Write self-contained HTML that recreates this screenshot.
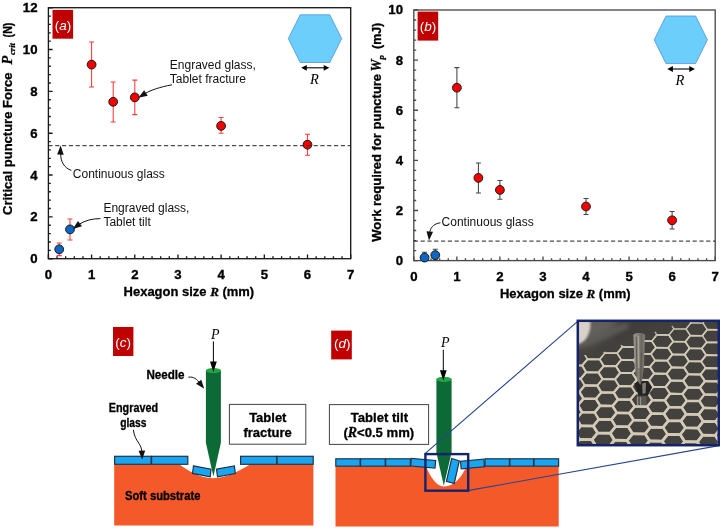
<!DOCTYPE html>
<html lang="en"><head><meta charset="utf-8"><title>Puncture figure</title>
<style>
html,body{margin:0;padding:0;background:#fff;}
body{width:720px;height:528px;overflow:hidden;}
svg{display:block;filter:blur(0.45px);}
text{font-family:"Liberation Sans",sans-serif;fill:#000;}
.b{font-weight:bold;stroke:#000;stroke-width:0.3px;}
.ser{font-family:"Liberation Serif",serif;font-style:italic;}
.tk{font-weight:bold;font-size:13.2px;stroke:#000;stroke-width:0.35px;}
.an{font-size:12px;fill:#111;}
.cal{font-weight:bold;font-size:11.9px;stroke:#000;stroke-width:0.3px;}
</style></head><body>
<svg width="720" height="528" viewBox="0 0 720 528">
<defs>
<filter id="soft" x="-5%" y="-5%" width="110%" height="110%"><feGaussianBlur stdDeviation="0.5"/></filter>
<filter id="blur1" x="-10%" y="-10%" width="120%" height="120%"><feGaussianBlur stdDeviation="0.6"/></filter>
<filter id="blur1b" x="-30%" y="-30%" width="160%" height="160%"><feGaussianBlur stdDeviation="1.3"/></filter>
<filter id="blur2" x="-20%" y="-20%" width="140%" height="140%"><feGaussianBlur stdDeviation="2"/></filter>
<filter id="blur4" x="-20%" y="-20%" width="140%" height="140%"><feGaussianBlur stdDeviation="5"/></filter>
</defs>
<rect width="720" height="528" fill="#fff"/>

<g stroke="#1a1a1a" stroke-width="1.35" fill="none">
<rect x="48.4" y="7.7" width="302.3" height="251.0"/>
<path d="M48.40 258.7v-4.2M57.04 258.7v-2.4M65.67 258.7v-2.4M74.31 258.7v-2.4M82.95 258.7v-2.4M91.59 258.7v-4.2M100.22 258.7v-2.4M108.86 258.7v-2.4M117.50 258.7v-2.4M126.13 258.7v-2.4M134.77 258.7v-4.2M143.41 258.7v-2.4M152.05 258.7v-2.4M160.68 258.7v-2.4M169.32 258.7v-2.4M177.96 258.7v-4.2M186.59 258.7v-2.4M195.23 258.7v-2.4M203.87 258.7v-2.4M212.51 258.7v-2.4M221.14 258.7v-4.2M229.78 258.7v-2.4M238.42 258.7v-2.4M247.05 258.7v-2.4M255.69 258.7v-2.4M264.33 258.7v-4.2M272.97 258.7v-2.4M281.60 258.7v-2.4M290.24 258.7v-2.4M298.88 258.7v-2.4M307.51 258.7v-4.2M316.15 258.7v-2.4M324.79 258.7v-2.4M333.43 258.7v-2.4M342.06 258.7v-2.4M350.70 258.7v-4.2M48.4 258.70h4.2M48.4 250.33h2.4M48.4 241.97h2.4M48.4 233.60h2.4M48.4 225.23h2.4M48.4 216.87h4.2M48.4 208.50h2.4M48.4 200.13h2.4M48.4 191.77h2.4M48.4 183.40h2.4M48.4 175.03h4.2M48.4 166.67h2.4M48.4 158.30h2.4M48.4 149.93h2.4M48.4 141.57h2.4M48.4 133.20h4.2M48.4 124.83h2.4M48.4 116.47h2.4M48.4 108.10h2.4M48.4 99.73h2.4M48.4 91.37h4.2M48.4 83.00h2.4M48.4 74.63h2.4M48.4 66.27h2.4M48.4 57.90h2.4M48.4 49.53h4.2M48.4 41.17h2.4M48.4 32.80h2.4M48.4 24.43h2.4M48.4 16.07h2.4M48.4 7.70h4.2"/>
</g>
<text class="tk" x="48.4" y="278.7" text-anchor="middle">0</text>
<text class="tk" x="91.6" y="278.7" text-anchor="middle">1</text>
<text class="tk" x="134.8" y="278.7" text-anchor="middle">2</text>
<text class="tk" x="178.0" y="278.7" text-anchor="middle">3</text>
<text class="tk" x="221.1" y="278.7" text-anchor="middle">4</text>
<text class="tk" x="264.3" y="278.7" text-anchor="middle">5</text>
<text class="tk" x="307.5" y="278.7" text-anchor="middle">6</text>
<text class="tk" x="350.7" y="278.7" text-anchor="middle">7</text>
<text class="tk" x="37.5" y="263.2" text-anchor="end">0</text>
<text class="tk" x="37.5" y="221.4" text-anchor="end">2</text>
<text class="tk" x="37.5" y="179.5" text-anchor="end">4</text>
<text class="tk" x="37.5" y="137.7" text-anchor="end">6</text>
<text class="tk" x="37.5" y="95.9" text-anchor="end">8</text>
<text class="tk" x="37.5" y="54.0" text-anchor="end">10</text>
<text class="tk" x="37.5" y="12.2" text-anchor="end">12</text>
<text class="b" font-size="13.1" x="123.6" y="296.4" textLength="130.6" lengthAdjust="spacingAndGlyphs">Hexagon size <tspan class="ser b" font-size="13.2">R</tspan> (mm)</text>
<text class="b" font-size="13.1" transform="translate(12.4,215) rotate(-90)" textLength="142.5" lengthAdjust="spacingAndGlyphs">Critical puncture Force</text>
<text class="ser b" font-size="14.4" transform="translate(12.4,64.4) rotate(-90)">P</text>
<text class="ser b" font-size="8.6" transform="translate(14.6,55) rotate(-90)">crit</text>
<text class="b" font-size="12.6" transform="translate(12.4,37.4) rotate(-90)" textLength="14.8" lengthAdjust="spacingAndGlyphs">(N)</text>
<path d="M59.2 243.0V255.6M56.7 243.0h5M56.7 255.6h5" stroke="#f83c3c" stroke-width="1.05" fill="none"/>
<path d="M70.0 219.0V239.9M67.5 219.0h5M67.5 239.9h5" stroke="#f83c3c" stroke-width="1.05" fill="none"/>
<path d="M91.6 42.0V87.0M89.1 42.0h5M89.1 87.0h5" stroke="#f83c3c" stroke-width="1.05" fill="none"/>
<path d="M113.2 82.0V121.9M110.7 82.0h5M110.7 121.9h5" stroke="#f83c3c" stroke-width="1.05" fill="none"/>
<path d="M134.8 80.1V114.6M132.3 80.1h5M132.3 114.6h5" stroke="#f83c3c" stroke-width="1.05" fill="none"/>
<path d="M221.1 117.5V133.2M218.6 117.5h5M218.6 133.2h5" stroke="#f83c3c" stroke-width="1.05" fill="none"/>
<path d="M307.5 134.2V155.2M305.0 134.2h5M305.0 155.2h5" stroke="#f83c3c" stroke-width="1.05" fill="none"/>
<circle cx="59.2" cy="249.3" r="4.4" fill="#0c66c4" stroke="#1a1a1a" stroke-width="1"/>
<circle cx="70.0" cy="229.4" r="4.4" fill="#0c66c4" stroke="#1a1a1a" stroke-width="1"/>
<circle cx="91.6" cy="64.6" r="4.4" fill="#f40000" stroke="#1a1a1a" stroke-width="1"/>
<circle cx="113.2" cy="101.8" r="4.4" fill="#f40000" stroke="#1a1a1a" stroke-width="1"/>
<circle cx="134.8" cy="97.4" r="4.4" fill="#f40000" stroke="#1a1a1a" stroke-width="1"/>
<circle cx="221.1" cy="125.9" r="4.4" fill="#f40000" stroke="#1a1a1a" stroke-width="1"/>
<circle cx="307.5" cy="144.7" r="4.4" fill="#f40000" stroke="#1a1a1a" stroke-width="1"/>
<path d="M48.4 145.7H350.7" stroke="#222" stroke-width="1" stroke-dasharray="4.2 2.6" fill="none"/>
<rect x="52.5" y="9.9" width="20.6" height="28.8" fill="#c00000"/>
<text x="62.9" y="29.7" font-size="13.5" fill="#fff" style="fill:#fff" text-anchor="middle">(<tspan font-style="italic">a</tspan>)</text>
<polygon points="288.3,38.6 300.2,14.8 329.8,14.8 341.7,38.6 329.8,62.5 300.2,62.5" fill="#6ccffb" stroke="#4f8fe0" stroke-width="0.8"/>
<path d="M305.2 67.8H325.3" stroke="#000" stroke-width="1.1"/>
<path d="M301.2 67.8l5.6 -2.9v5.8zM329.3 67.8l-5.6 -2.9v5.8z" fill="#000"/>
<text class="ser" font-size="14.5" x="314.4" y="83.5" text-anchor="middle">R</text>
<text class="an" x="169.8" y="69.2">Engraved glass,</text>
<text class="an" x="169.8" y="83.4">Tablet fracture</text>
<text class="an" x="72.8" y="177.6">Continuous glass</text>
<text class="an" x="103.4" y="211.8">Engraved glass,</text>
<text class="an" x="103.4" y="226.2">Tablet tilt</text>
<path d="M172 84.8C160 87 151 90 145 93.6" stroke="#111" stroke-width="1" fill="none"/>
<path transform="translate(138.4,97.8) rotate(147)" d="M0 0l-9 -3.3v6.6z" fill="#111"/>
<path d="M71.4 170.4C64 168 60.4 161 60.8 154" stroke="#111" stroke-width="1" fill="none"/>
<path transform="translate(60.6,145.6) rotate(-89)" d="M0 0l-9 -3.3v6.6z" fill="#111"/>
<path d="M100.4 218.6C92 218.6 85 220.6 79.6 224" stroke="#111" stroke-width="1" fill="none"/>
<path transform="translate(72.8,229) rotate(143)" d="M0 0l-9 -3.3v6.6z" fill="#111"/>
<g stroke="#4a4a4a" stroke-width="1.35" fill="none">
<rect x="413.8" y="10.0" width="301.40000000000003" height="250.60000000000002"/>
<path d="M413.80 260.6v-4.2M422.41 260.6v-2.4M431.02 260.6v-2.4M439.63 260.6v-2.4M448.25 260.6v-2.4M456.86 260.6v-4.2M465.47 260.6v-2.4M474.08 260.6v-2.4M482.69 260.6v-2.4M491.30 260.6v-2.4M499.91 260.6v-4.2M508.53 260.6v-2.4M517.14 260.6v-2.4M525.75 260.6v-2.4M534.36 260.6v-2.4M542.97 260.6v-4.2M551.58 260.6v-2.4M560.19 260.6v-2.4M568.81 260.6v-2.4M577.42 260.6v-2.4M586.03 260.6v-4.2M594.64 260.6v-2.4M603.25 260.6v-2.4M611.86 260.6v-2.4M620.47 260.6v-2.4M629.09 260.6v-4.2M637.70 260.6v-2.4M646.31 260.6v-2.4M654.92 260.6v-2.4M663.53 260.6v-2.4M672.14 260.6v-4.2M680.75 260.6v-2.4M689.37 260.6v-2.4M697.98 260.6v-2.4M706.59 260.6v-2.4M715.20 260.6v-4.2M413.8 260.60h4.2M413.8 250.58h2.4M413.8 240.55h2.4M413.8 230.53h2.4M413.8 220.50h2.4M413.8 210.48h4.2M413.8 200.46h2.4M413.8 190.43h2.4M413.8 180.41h2.4M413.8 170.38h2.4M413.8 160.36h4.2M413.8 150.34h2.4M413.8 140.31h2.4M413.8 130.29h2.4M413.8 120.26h2.4M413.8 110.24h4.2M413.8 100.22h2.4M413.8 90.19h2.4M413.8 80.17h2.4M413.8 70.14h2.4M413.8 60.12h4.2M413.8 50.10h2.4M413.8 40.07h2.4M413.8 30.05h2.4M413.8 20.02h2.4M413.8 10.00h4.2"/>
</g>
<text class="tk" x="413.8" y="281" text-anchor="middle">0</text>
<text class="tk" x="456.9" y="281" text-anchor="middle">1</text>
<text class="tk" x="499.9" y="281" text-anchor="middle">2</text>
<text class="tk" x="543.0" y="281" text-anchor="middle">3</text>
<text class="tk" x="586.0" y="281" text-anchor="middle">4</text>
<text class="tk" x="629.1" y="281" text-anchor="middle">5</text>
<text class="tk" x="672.1" y="281" text-anchor="middle">6</text>
<text class="tk" x="715.2" y="281" text-anchor="middle">7</text>
<text class="tk" x="403" y="265.0" text-anchor="end">0</text>
<text class="tk" x="403" y="214.9" text-anchor="end">2</text>
<text class="tk" x="403" y="164.8" text-anchor="end">4</text>
<text class="tk" x="403" y="114.6" text-anchor="end">6</text>
<text class="tk" x="403" y="64.5" text-anchor="end">8</text>
<text class="tk" x="403" y="14.4" text-anchor="end">10</text>
<text class="b" font-size="13.1" x="500" y="298.2" textLength="130.6" lengthAdjust="spacingAndGlyphs">Hexagon size <tspan class="ser b" font-size="13.2">R</tspan> (mm)</text>
<text class="b" font-size="13.1" transform="translate(381,241.8) rotate(-90)" textLength="167.9" lengthAdjust="spacingAndGlyphs">Work required for puncture</text>
<text class="ser b" font-size="13.6" transform="translate(381,71.4) rotate(-90)">W</text>
<text class="ser b" font-size="8.6" transform="translate(384,59.4) rotate(-90)">p</text>
<text class="b" font-size="12.6" transform="translate(381,49) rotate(-90)" textLength="26.2" lengthAdjust="spacingAndGlyphs">(mJ)</text>
<path d="M413.8 241.1H715.2" stroke="#222" stroke-width="1" stroke-dasharray="4.2 2.6" fill="none"/>
<path d="M424.6 252.3V260.6M422.1 252.3h5M422.1 260.6h5" stroke="#444" stroke-width="1.05" fill="none"/>
<path d="M435.3 249.3V259.8M432.8 249.3h5M432.8 259.8h5" stroke="#444" stroke-width="1.05" fill="none"/>
<path d="M456.9 67.6V107.7M454.4 67.6h5M454.4 107.7h5" stroke="#444" stroke-width="1.05" fill="none"/>
<path d="M478.4 162.9V192.9M475.9 162.9h5M475.9 192.9h5" stroke="#444" stroke-width="1.05" fill="none"/>
<path d="M499.9 180.4V199.2M497.4 180.4h5M497.4 199.2h5" stroke="#444" stroke-width="1.05" fill="none"/>
<path d="M586.0 198.5V214.5M583.5 198.5h5M583.5 214.5h5" stroke="#444" stroke-width="1.05" fill="none"/>
<path d="M672.1 211.5V229.0M669.6 211.5h5M669.6 229.0h5" stroke="#444" stroke-width="1.05" fill="none"/>
<circle cx="424.6" cy="257.6" r="4.4" fill="#0c66c4" stroke="#1a1a1a" stroke-width="1"/>
<circle cx="435.3" cy="255.1" r="4.4" fill="#0c66c4" stroke="#1a1a1a" stroke-width="1"/>
<circle cx="456.9" cy="87.7" r="4.4" fill="#f40000" stroke="#1a1a1a" stroke-width="1"/>
<circle cx="478.4" cy="177.9" r="4.4" fill="#f40000" stroke="#1a1a1a" stroke-width="1"/>
<circle cx="499.9" cy="189.9" r="4.4" fill="#f40000" stroke="#1a1a1a" stroke-width="1"/>
<circle cx="586.0" cy="206.5" r="4.4" fill="#f40000" stroke="#1a1a1a" stroke-width="1"/>
<circle cx="672.1" cy="220.3" r="4.4" fill="#f40000" stroke="#1a1a1a" stroke-width="1"/>
<rect x="417.6" y="11.6" width="20.6" height="29" fill="#c00000"/>
<text x="428" y="31.4" font-size="13.5" fill="#fff" style="fill:#fff" text-anchor="middle">(<tspan font-style="italic">b</tspan>)</text>
<polygon points="654.2,39.8 666.0,16.0 695.6,16.0 707.4,39.8 695.6,63.6 666.0,63.6" fill="#6ccffb" stroke="#4f8fe0" stroke-width="0.8"/>
<path d="M671.3 69H690.9" stroke="#000" stroke-width="1.1"/>
<path d="M667.3 69l5.6 -2.9v5.8zM694.9 69l-5.6 -2.9v5.8z" fill="#000"/>
<text class="ser" font-size="14.5" x="680" y="84.8" text-anchor="middle">R</text>
<text class="an" x="441.6" y="226.4">Continuous glass</text>
<path d="M440.4 222.8C435 223.4 431 226.6 429.8 231.6" stroke="#111" stroke-width="1" fill="none"/>
<path transform="translate(429,240.4) rotate(95)" d="M0 0l-9 -3.3v6.6z" fill="#111"/>
<path d="M114.2 464.6H179.4C188 470 198 478.2 213.2 478.2C228 478.2 240 470 250 464.6H313.4V525.6H114.2z" fill="#f4592a"/>
<path d="M205.9 370.6V442.8L213.4 476.4L220.9 442.8V370.6z" fill="#0c6a36"/>
<ellipse cx="213.4" cy="370.6" rx="7.5" ry="2.6" fill="#22a543"/>
<rect x="114.6" y="456.3" width="36.5" height="8" fill="#19a5ef" stroke="#22324a" stroke-width="1.2"/>
<rect x="151.6" y="456.3" width="36.2" height="8" fill="#19a5ef" stroke="#22324a" stroke-width="1.2"/>
<rect x="240.6" y="456.3" width="36.1" height="8" fill="#19a5ef" stroke="#22324a" stroke-width="1.2"/>
<rect x="277.1" y="456.3" width="36.1" height="8" fill="#19a5ef" stroke="#22324a" stroke-width="1.2"/>
<polygon points="193.5,465.8 211.0,469.2 210.2,476.9 192.5,473.4" fill="#19a5ef" stroke="#22324a" stroke-width="1.2"/>
<polygon points="216.5,469.2 234.4,466.0 235.3,473.6 217.5,476.9" fill="#19a5ef" stroke="#22324a" stroke-width="1.2"/>
<text class="ser" font-size="14" x="215.2" y="339.2" text-anchor="middle">P</text>
<path d="M213.4 341.4V365" stroke="#000" stroke-width="1"/>
<path d="M213.4 372l-3.4 -10.4h6.8z" fill="#000"/>
<rect x="113" y="327" width="20.4" height="29" fill="#c00000"/>
<text x="123.2" y="346.6" font-size="13.5" fill="#fff" style="fill:#fff" text-anchor="middle">(<tspan font-style="italic">c</tspan>)</text>
<text class="cal" x="146.4" y="378.8" textLength="38.2" lengthAdjust="spacingAndGlyphs">Needle</text>
<text class="cal" x="108.8" y="412" textLength="49.2" lengthAdjust="spacingAndGlyphs">Engraved</text>
<text class="cal" x="120.2" y="427" textLength="26.2" lengthAdjust="spacingAndGlyphs">glass</text>
<text class="cal" x="125" y="500" textLength="75.4" lengthAdjust="spacingAndGlyphs">Soft substrate</text>
<path d="M188.4 377.2C193.6 376.4 197 379 200 383.6" stroke="#111" stroke-width="1" fill="none"/>
<path transform="translate(204.2,388.8) rotate(52)" d="M0 0l-9 -3.3v6.6z" fill="#111"/>
<path d="M133.4 429.8C134 436 136.5 440 139 443.5C140.6 446 141.4 448 141.8 451" stroke="#111" stroke-width="1" fill="none"/>
<path transform="translate(142.2,459.6) rotate(88)" d="M0 0l-9 -3.3v6.6z" fill="#111"/>
<rect x="229.4" y="404.4" width="76.4" height="39.8" fill="#fff" stroke="#444" stroke-width="1"/>
<text class="b" font-size="13" x="267.8" y="421.7" text-anchor="middle">Tablet</text>
<text class="b" font-size="13" x="267.6" y="437.3" text-anchor="middle">fracture</text>
<path d="M335.5 466.2H426C430 476.4 436 486.2 444 486.4C455 486.2 462 476.4 466.5 466.2H558.7V526.6H335.5z" fill="#f4592a"/>
<path d="M436.4 379.4V452.4L443.8 485.8L451.6 452.4V379.4z" fill="#0c6a36"/>
<ellipse cx="444.0" cy="379.4" rx="7.600000000000023" ry="2.6" fill="#22a543"/>
<rect x="335.8" y="458.8" width="24.3" height="7.4" fill="#19a5ef" stroke="#22324a" stroke-width="1.2"/>
<rect x="360.6" y="458.8" width="24.6" height="7.4" fill="#19a5ef" stroke="#22324a" stroke-width="1.2"/>
<rect x="385.7" y="458.8" width="24.6" height="7.4" fill="#19a5ef" stroke="#22324a" stroke-width="1.2"/>
<rect x="411" y="459.4" width="24.4" height="7.6" fill="#19a5ef" stroke="#22324a" stroke-width="1.2" transform="rotate(5 423 463.1)"/>
<rect x="460.8" y="460.2" width="23.4" height="7.6" fill="#19a5ef" stroke="#22324a" stroke-width="1.2" transform="rotate(-5 472.5 464)"/>
<rect x="485" y="458.8" width="24.4" height="7.4" fill="#19a5ef" stroke="#22324a" stroke-width="1.2"/>
<rect x="509.9" y="458.8" width="23.6" height="7.4" fill="#19a5ef" stroke="#22324a" stroke-width="1.2"/>
<rect x="534" y="458.8" width="24.6" height="7.4" fill="#19a5ef" stroke="#22324a" stroke-width="1.2"/>
<polygon points="451.7,458.5 459.3,460.8 454.2,483.5 446.4,481.4" fill="#19a5ef" stroke="#22324a" stroke-width="1.2"/>
<text class="ser" font-size="14" x="445.4" y="347" text-anchor="middle">P</text>
<path d="M443.3 349.8V373.6" stroke="#000" stroke-width="1"/>
<path d="M443.3 380.6l-3.4 -10.4h6.8z" fill="#000"/>
<rect x="331.2" y="330.6" width="20.6" height="28.8" fill="#c00000"/>
<text x="342.2" y="348" font-size="13.5" fill="#fff" style="fill:#fff" text-anchor="middle">(<tspan font-style="italic">d</tspan>)</text>
<rect x="329.4" y="404.6" width="99.2" height="39.8" fill="#fff" stroke="#444" stroke-width="1"/>
<text class="b" font-size="13.1" x="379.4" y="421.8" text-anchor="middle">Tablet tilt</text>
<text class="b" font-size="13.1" x="378.8" y="437.4" text-anchor="middle">(<tspan class="ser b" font-size="13.8">R</tspan>&lt;0.5 mm)</text>
<path d="M425 453.6L577.4 321.6M469 490.4L719 445.6" stroke="#2a4590" stroke-width="1.1" fill="none"/>
<rect x="425.4" y="454.1" width="42.8" height="36.6" fill="none" stroke="#14236a" stroke-width="2.4"/>
<clipPath id="pc"><rect x="577.8" y="320.8" width="141.0" height="124.39999999999998"/></clipPath>
<linearGradient id="ng" x1="0" x2="1" y1="0" y2="0"><stop offset="0" stop-color="#9c978d"/><stop offset="0.35" stop-color="#8a857c"/><stop offset="0.7" stop-color="#6b675f"/><stop offset="1" stop-color="#858178"/></linearGradient>
<radialGradient id="lg" cx="0.5" cy="0.5" r="0.5"><stop offset="0" stop-color="#e4e0d6"/><stop offset="0.55" stop-color="#c9c5bb"/><stop offset="1" stop-color="#c9c5bb" stop-opacity="0"/></radialGradient>
<g clip-path="url(#pc)">
<rect x="577.8" y="320.8" width="141.0" height="124.39999999999998" fill="#43413d"/>
<clipPath id="gc"><polygon points="570,355 596,355 619,346 647,334.5 673,325.5 689,321 730,316 730,460 570,460"/></clipPath>
<g clip-path="url(#gc)" filter="url(#soft)" fill="none" stroke="#d2cab6" stroke-linejoin="round">
<path stroke-width="1.4" d="M570.1 320.4L575.4 314.3L587.4 314.5L591.4 320.8L586.1 327.0L574.1 326.8zM568.7 333.0L574.1 326.8L586.1 327.0L590.1 333.5L584.7 339.7L572.7 339.5zM586.1 327.0L591.4 320.8L603.3 321.1L607.4 327.5L602.1 333.7L590.1 333.5zM603.3 321.1L608.5 314.9L620.5 315.2L624.6 321.5L619.4 327.7L607.4 327.5zM602.1 333.7L607.4 327.5L619.4 327.7L623.5 334.1L618.3 340.4L606.2 340.2zM619.4 327.7L624.6 321.5L636.5 321.7L640.7 328.1L635.5 334.4L623.5 334.1zM636.5 321.7L641.6 315.6L653.6 315.8L657.8 322.2L652.7 328.4L640.7 328.1zM635.5 334.4L640.7 328.1L652.7 328.4L656.9 334.8L651.8 341.1L639.7 340.8zM652.7 328.4L657.8 322.2L669.7 322.4L674.0 328.8L668.9 335.0L656.9 334.8zM669.7 322.4L674.8 316.2L686.7 316.5L691.0 322.8L686.0 329.0L674.0 328.8zM668.9 335.0L674.0 328.8L686.0 329.0L690.3 335.5L685.3 341.8L673.2 341.5zM686.0 329.0L691.0 322.8L702.9 323.1L707.3 329.5L702.3 335.7L690.3 335.5zM702.9 323.1L707.9 316.9L719.8 317.1L724.2 323.5L719.3 329.7L707.3 329.5zM719.3 329.7L724.2 323.5L736.1 323.7L740.6 330.1L735.7 336.4L723.7 336.1z"/>
<path stroke-width="1.5" d="M584.7 339.7L590.1 333.5L602.1 333.7L606.2 340.2L600.9 346.5L588.8 346.2zM618.3 340.4L623.5 334.1L635.5 334.4L639.7 340.8L634.5 347.1L622.4 346.9zM651.8 341.1L656.9 334.8L668.9 335.0L673.2 341.5L668.1 347.8L656.0 347.6zM685.3 341.8L690.3 335.5L702.3 335.7L706.7 342.2L701.7 348.5L689.6 348.3zM702.3 335.7L707.3 329.5L719.3 329.7L723.7 336.1L718.8 342.4L706.7 342.2zM718.8 342.4L723.7 336.1L735.7 336.4L740.2 342.9L735.3 349.2L723.2 348.9z"/>
<path stroke-width="1.6" d="M567.3 345.8L572.7 339.5L584.7 339.7L588.8 346.2L583.4 352.6L571.3 352.3zM600.9 346.5L606.2 340.2L618.3 340.4L622.4 346.9L617.1 353.2L605.0 353.0zM634.5 347.1L639.7 340.8L651.8 341.1L656.0 347.6L650.9 353.9L638.7 353.7zM668.1 347.8L673.2 341.5L685.3 341.8L689.6 348.3L684.6 354.6L672.4 354.4zM701.7 348.5L706.7 342.2L718.8 342.4L723.2 348.9L718.3 355.3L706.1 355.0z"/>
<path stroke-width="1.7" d="M565.8 358.7L571.3 352.3L583.4 352.6L587.5 359.1L582.1 365.5L569.9 365.3zM583.4 352.6L588.8 346.2L600.9 346.5L605.0 353.0L599.7 359.4L587.5 359.1zM599.7 359.4L605.0 353.0L617.1 353.2L621.3 359.8L616.0 366.2L603.8 366.0zM617.1 353.2L622.4 346.9L634.5 347.1L638.7 353.7L633.5 360.1L621.3 359.8zM633.5 360.1L638.7 353.7L650.9 353.9L655.1 360.5L649.9 366.9L637.7 366.7zM650.9 353.9L656.0 347.6L668.1 347.8L672.4 354.4L667.3 360.7L655.1 360.5zM684.6 354.6L689.6 348.3L701.7 348.5L706.1 355.0L701.1 361.4L688.9 361.2zM718.3 355.3L723.2 348.9L735.3 349.2L739.9 355.7L734.9 362.1L722.8 361.8z"/>
<path stroke-width="1.8" d="M582.1 365.5L587.5 359.1L599.7 359.4L603.8 366.0L598.4 372.4L586.2 372.2zM616.0 366.2L621.3 359.8L633.5 360.1L637.7 366.7L632.4 373.1L620.2 372.9zM649.9 366.9L655.1 360.5L667.3 360.7L671.6 367.3L666.5 373.8L654.2 373.5zM667.3 360.7L672.4 354.4L684.6 354.6L688.9 361.2L683.9 367.6L671.6 367.3zM683.9 367.6L688.9 361.2L701.1 361.4L705.6 368.0L700.5 374.5L688.3 374.2zM701.1 361.4L706.1 355.0L718.3 355.3L722.8 361.8L717.8 368.3L705.6 368.0zM717.8 368.3L722.8 361.8L734.9 362.1L739.5 368.7L734.5 375.1L722.3 374.9z"/>
<path stroke-width="1.9" d="M564.4 371.7L569.9 365.3L582.1 365.5L586.2 372.2L580.7 378.7L568.4 378.4zM598.4 372.4L603.8 366.0L616.0 366.2L620.2 372.9L614.9 379.3L602.6 379.1zM632.4 373.1L637.7 366.7L649.9 366.9L654.2 373.5L649.0 380.0L636.7 379.8zM666.5 373.8L671.6 367.3L683.9 367.6L688.3 374.2L683.1 380.7L670.8 380.5zM700.5 374.5L705.6 368.0L717.8 368.3L722.3 374.9L717.3 381.4L705.0 381.1z"/>
<path stroke-width="2.0" d="M562.9 384.9L568.4 378.4L580.7 378.7L584.8 385.4L579.4 391.9L567.0 391.7zM580.7 378.7L586.2 372.2L598.4 372.4L602.6 379.1L597.2 385.6L584.8 385.4zM597.2 385.6L602.6 379.1L614.9 379.3L619.1 386.0L613.7 392.6L601.3 392.4zM614.9 379.3L620.2 372.9L632.4 373.1L636.7 379.8L631.4 386.3L619.1 386.0zM649.0 380.0L654.2 373.5L666.5 373.8L670.8 380.5L665.6 387.0L653.3 386.7zM683.1 380.7L688.3 374.2L700.5 374.5L705.0 381.1L699.9 387.7L687.6 387.4zM717.3 381.4L722.3 374.9L734.5 375.1L739.1 381.8L734.1 388.4L721.8 388.1z"/>
<path stroke-width="2.1" d="M579.4 391.9L584.8 385.4L597.2 385.6L601.3 392.4L595.9 398.9L583.5 398.7zM613.7 392.6L619.1 386.0L631.4 386.3L635.7 393.0L630.3 399.6L617.9 399.4zM631.4 386.3L636.7 379.8L649.0 380.0L653.3 386.7L648.0 393.3L635.7 393.0zM648.0 393.3L653.3 386.7L665.6 387.0L670.0 393.7L664.8 400.3L652.4 400.1zM665.6 387.0L670.8 380.5L683.1 380.7L687.6 387.4L682.4 394.0L670.0 393.7zM699.9 387.7L705.0 381.1L717.3 381.4L721.8 388.1L716.7 394.7L704.4 394.4z"/>
<path stroke-width="2.2" d="M561.4 398.2L567.0 391.7L579.4 391.9L583.5 398.7L578.0 405.3L565.5 405.1zM595.9 398.9L601.3 392.4L613.7 392.6L617.9 399.4L612.5 406.0L600.1 405.7zM630.3 399.6L635.7 393.0L648.0 393.3L652.4 400.1L647.1 406.7L634.7 406.4zM664.8 400.3L670.0 393.7L682.4 394.0L686.9 400.8L681.7 407.4L669.2 407.1zM682.4 394.0L687.6 387.4L699.9 387.7L704.4 394.4L699.3 401.0L686.9 400.8zM699.3 401.0L704.4 394.4L716.7 394.7L721.3 401.4L716.2 408.1L703.8 407.8zM716.7 394.7L721.8 388.1L734.1 388.4L738.7 395.1L733.7 401.7L721.3 401.4z"/>
<path stroke-width="2.3" d="M578.0 405.3L583.5 398.7L595.9 398.9L600.1 405.7L594.6 412.4L582.1 412.2zM612.5 406.0L617.9 399.4L630.3 399.6L634.7 406.4L629.3 413.1L616.8 412.8zM647.1 406.7L652.4 400.1L664.8 400.3L669.2 407.1L663.9 413.8L651.5 413.5zM681.7 407.4L686.9 400.8L699.3 401.0L703.8 407.8L698.6 414.5L686.1 414.2zM716.2 408.1L721.3 401.4L733.7 401.7L738.3 408.5L733.3 415.2L720.8 414.9z"/>
<path stroke-width="2.4" d="M559.9 411.7L565.5 405.1L578.0 405.3L582.1 412.2L576.6 418.8L564.1 418.6zM576.6 418.8L582.1 412.2L594.6 412.4L598.8 419.3L593.3 426.0L580.8 425.8zM594.6 412.4L600.1 405.7L612.5 406.0L616.8 412.8L611.4 419.5L598.8 419.3zM629.3 413.1L634.7 406.4L647.1 406.7L651.5 413.5L646.1 420.2L633.6 420.0zM663.9 413.8L669.2 407.1L681.7 407.4L686.1 414.2L680.9 420.9L668.4 420.7zM698.6 414.5L703.8 407.8L716.2 408.1L720.8 414.9L715.7 421.6L703.2 421.4z"/>
<path stroke-width="2.5" d="M558.4 425.3L564.1 418.6L576.6 418.8L580.8 425.8L575.2 432.5L562.6 432.3zM593.3 426.0L598.8 419.3L611.4 419.5L615.6 426.5L610.2 433.2L597.6 433.0zM611.4 419.5L616.8 412.8L629.3 413.1L633.6 420.0L628.2 426.7L615.6 426.5zM628.2 426.7L633.6 420.0L646.1 420.2L650.5 427.1L645.2 433.9L632.6 433.7zM646.1 420.2L651.5 413.5L663.9 413.8L668.4 420.7L663.1 427.4L650.5 427.1zM680.9 420.9L686.1 414.2L698.6 414.5L703.2 421.4L698.0 428.1L685.4 427.8zM715.7 421.6L720.8 414.9L733.3 415.2L737.9 422.1L732.9 428.8L720.3 428.5z"/>
<path stroke-width="2.6" d="M575.2 432.5L580.8 425.8L593.3 426.0L597.6 433.0L592.0 439.7L579.4 439.5zM610.2 433.2L615.6 426.5L628.2 426.7L632.6 433.7L627.1 440.5L614.5 440.2zM645.2 433.9L650.5 427.1L663.1 427.4L667.6 434.4L662.2 441.2L649.6 440.9zM663.1 427.4L668.4 420.7L680.9 420.9L685.4 427.8L680.2 434.6L667.6 434.4zM680.2 434.6L685.4 427.8L698.0 428.1L702.6 435.1L697.3 441.9L684.7 441.6zM698.0 428.1L703.2 421.4L715.7 421.6L720.3 428.5L715.2 435.3L702.6 435.1zM715.2 435.3L720.3 428.5L732.9 428.8L737.6 435.8L732.4 442.6L719.8 442.3z"/>
<path stroke-width="2.7" d="M556.9 439.0L562.6 432.3L575.2 432.5L579.4 439.5L573.7 446.3L561.1 446.1zM592.0 439.7L597.6 433.0L610.2 433.2L614.5 440.2L609.0 447.0L596.3 446.8zM627.1 440.5L632.6 433.7L645.2 433.9L649.6 440.9L644.2 447.7L631.5 447.5zM662.2 441.2L667.6 434.4L680.2 434.6L684.7 441.6L679.4 448.4L666.7 448.2zM697.3 441.9L702.6 435.1L715.2 435.3L719.8 442.3L714.6 449.1L701.9 448.9z"/>
<path stroke-width="2.8" d="M573.7 446.3L579.4 439.5L592.0 439.7L596.3 446.8L590.7 453.6L578.0 453.4zM609.0 447.0L614.5 440.2L627.1 440.5L631.5 447.5L626.0 454.3L613.3 454.1zM644.2 447.7L649.6 440.9L662.2 441.2L666.7 448.2L661.3 455.0L648.6 454.8zM679.4 448.4L684.7 441.6L697.3 441.9L701.9 448.9L696.7 455.8L684.0 455.5zM714.6 449.1L719.8 442.3L732.4 442.6L737.2 449.6L732.0 456.5L719.3 456.2z"/>
</g>
<g filter="url(#blur4)"><polygon points="560,300 704,300 673,322 647,331 619,341 596,348 560,348" fill="#403e3b"/><ellipse cx="590" cy="331" rx="30" ry="13" fill="#63615c" transform="rotate(-24 588 332)"/></g>
<g filter="url(#blur2)"><path d="M572 345C590 341 608 334 628 325" stroke="#5d5b56" stroke-width="6" fill="none"/></g>
<g filter="url(#blur1b)"><path d="M575 318H590C591.5 327 589.5 336 584 341C581 343.5 578 344.5 575 345z" fill="#d6d2c8"/></g>
<g filter="url(#blur1)">
<path d="M634.2 383.5L640 381L647.5 381L652 387.5L648 395.5L638.5 395.5z" fill="#242322"/>
<path d="M633.4 335C634.5 332.4 643.8 332.4 645 335L644 366L642.2 380L640.4 385L637.2 380L634.6 368z" fill="url(#ng)"/>
<path d="M636.2 337L637 376M641.4 352L640.6 382" stroke="#57534d" stroke-width="0.9" fill="none"/>
<path d="M638.6 336L638.8 368" stroke="#b4afa4" stroke-width="0.9" fill="none"/>
<path d="M642.2 383.5L646 382.5L645.6 393L642.6 394z" fill="#827e75"/>
<path d="M636.6 396.2H646.4V405H636.6z" fill="#5a5751"/>
<path d="M637.6 396.6V405M640.6 397V405" stroke="#aaa59a" stroke-width="0.8"/>
</g>
</g>
<rect x="577.8" y="320.8" width="141.0" height="124.39999999999998" fill="none" stroke="#14236a" stroke-width="2.5"/>
</svg></body></html>
